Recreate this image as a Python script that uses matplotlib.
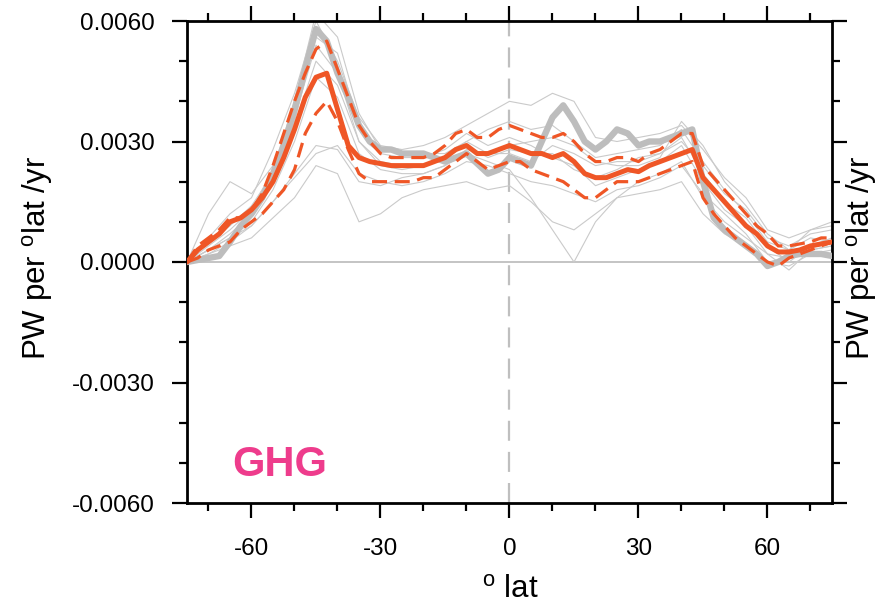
import matplotlib
matplotlib.use("Agg")
import matplotlib.pyplot as plt
from matplotlib.ticker import MultipleLocator

plt.rcParams['font.family'] = ['Liberation Sans', 'DejaVu Sans']
plt.rcParams['mathtext.fontset'] = 'custom'
plt.rcParams['mathtext.rm'] = 'Liberation Sans'

# ---------------- data ----------------
lat = [-75, -72.5, -70, -67.5, -65, -62.5, -60, -57.5, -55, -52.5, -50, -47.5, -45, -42.5,
       -40, -37.5, -35, -32.5, -30, -27.5, -25, -22.5, -20, -17.5, -15, -12.5, -10, -7.5,
       -5, -2.5, 0, 2.5, 5, 7.5, 10, 12.5, 15, 17.5, 20, 22.5, 25, 27.5, 30, 32.5, 35,
       37.5, 40, 42.5, 45, 47.5, 50, 52.5, 55, 57.5, 60, 62.5, 65, 67.5, 70, 72.5, 75]

ens_mean = [0.0000, 0.0003, 0.0005, 0.0007, 0.0010, 0.0011, 0.0013, 0.0016, 0.0020, 0.0026,
            0.0033, 0.0041, 0.0046, 0.0047, 0.0038, 0.0029, 0.0026, 0.0025, 0.00245, 0.0024,
            0.0024, 0.0024, 0.0024, 0.0025, 0.0026, 0.0028, 0.0029, 0.0027, 0.0027, 0.0028,
            0.0029, 0.0028, 0.0027, 0.0027, 0.0026, 0.0027, 0.0025, 0.0022, 0.0021, 0.0021,
            0.0022, 0.0023, 0.00225, 0.0024, 0.0025, 0.0026, 0.0027, 0.0028, 0.0021, 0.0018,
            0.0015, 0.0012, 0.0009, 0.0007, 0.0004, 0.00025, 0.00025, 0.0003, 0.0004, 0.00045,
            0.0005]

ens_upper = [0.0000, 0.0004, 0.0006, 0.0008, 0.0011, 0.0011, 0.0013, 0.0017, 0.0024, 0.0032,
             0.0040, 0.0047, 0.0053, 0.0055, 0.0048, 0.0041, 0.0034, 0.0030, 0.0027, 0.0026,
             0.0026, 0.0026, 0.0026, 0.0027, 0.0029, 0.0032, 0.0033, 0.0031, 0.0031, 0.0033,
             0.0034, 0.0033, 0.0032, 0.0031, 0.0031, 0.0032, 0.0030, 0.0027, 0.0025, 0.0025,
             0.0026, 0.0026, 0.0025, 0.0027, 0.0028, 0.0030, 0.0032, 0.0032, 0.0024, 0.0021,
             0.0018, 0.0015, 0.0012, 0.0009, 0.0007, 0.0004, 0.0004, 0.00045, 0.0005, 0.0006,
             0.0006]

ens_lower = [0.0000, 0.0001, 0.0003, 0.0004, 0.0005, 0.0008, 0.0010, 0.0012, 0.0015, 0.0018,
             0.0023, 0.0032, 0.0037, 0.0040, 0.0035, 0.0028, 0.0022, 0.0020, 0.0020, 0.0020,
             0.0020, 0.0020, 0.0021, 0.0021, 0.0023, 0.0025, 0.0027, 0.0025, 0.0023, 0.0024,
             0.0025, 0.0025, 0.0023, 0.0022, 0.0021, 0.0020, 0.0018, 0.0016, 0.0016, 0.0018,
             0.0020, 0.0020, 0.0020, 0.0021, 0.0022, 0.0023, 0.0024, 0.0025, 0.0016, 0.0012,
             0.0009, 0.0006, 0.0004, 0.0002, 0.0000, -0.0001, 0.0001, 0.0002, 0.0003, 0.0004,
             0.0005]

obs = [0.0000, 0.00005, 0.0001, 0.00015, 0.0005, 0.0009, 0.0012, 0.0016, 0.0022, 0.0029,
       0.0038, 0.0048, 0.0058, 0.0055, 0.0047, 0.0041, 0.0034, 0.0030, 0.0028, 0.0028,
       0.0027, 0.0027, 0.0027, 0.0026, 0.0025, 0.0026, 0.0027, 0.00245, 0.0022, 0.0023,
       0.0026, 0.0025, 0.0024, 0.0030, 0.0036, 0.0039, 0.0035, 0.0030, 0.0028, 0.0030,
       0.0033, 0.0032, 0.0029, 0.0030, 0.0030, 0.0031, 0.0032, 0.0033, 0.0020, 0.0011,
       0.0008, 0.0006, 0.0004, 0.0002, -0.0001, 0.0000, 0.00015, 0.0002, 0.0002, 0.0002,
       0.00015]

lat5 = [-75, -70, -65, -60, -55, -50, -45, -40, -35, -30, -25, -20, -15, -10, -5, 0,
        5, 10, 15, 20, 25, 30, 35, 40, 45, 50, 55, 60, 65, 70, 75]

member1 = [0, 0.0002, 0.0004, 0.0006, 0.0011, 0.0016, 0.0024, 0.0022, 0.0010, 0.0012, 0.0016,
           0.0018, 0.0019, 0.0020, 0.0018, 0.0019, 0.0015, 0.0010, 0.0008, 0.0012, 0.0016,
           0.0017, 0.0018, 0.0020, 0.0012, 0.0007, 0.0004, 0.0000, 0.0001, 0.0002, 0.0002]
member2 = [0, 0.0003, 0.0006, 0.0009, 0.0015, 0.0022, 0.0029, 0.0028, 0.0020, 0.0019, 0.0021,
           0.0022, 0.0024, 0.0027, 0.0025, 0.0023, 0.0016, 0.0008, 0.0000, 0.0010, 0.0016,
           0.0020, 0.0022, 0.0025, 0.0016, 0.0010, 0.0006, 0.0002, 0.0001, 0.0003, 0.0004]
member3 = [0, 0.0006, 0.0012, 0.0016, 0.0028, 0.0042, 0.0060, 0.0050, 0.0036, 0.0029, 0.0028,
           0.0029, 0.0031, 0.0034, 0.0037, 0.0040, 0.0039, 0.0042, 0.0040, 0.0031, 0.0030,
           0.0031, 0.0032, 0.0034, 0.0028, 0.0021, 0.0016, 0.0008, 0.0006, 0.0008, 0.0009]
member4 = [0, 0.0012, 0.0020, 0.0017, 0.0024, 0.0034, 0.0050, 0.0044, 0.0030, 0.0025, 0.0024,
           0.0024, 0.0026, 0.0030, 0.0033, 0.0035, 0.0033, 0.0034, 0.0030, 0.0026, 0.0027,
           0.0028, 0.0029, 0.0033, 0.0025, 0.0018, 0.0012, 0.0005, 0.0003, 0.0006, 0.0005]
member5 = [0, 0.0003, 0.0007, 0.0012, 0.0020, 0.0035, 0.0056, 0.0052, 0.0034, 0.0027, 0.0026,
           0.0026, 0.0028, 0.0032, 0.0029, 0.0031, 0.0029, 0.0026, 0.0024, 0.0019, 0.0021,
           0.0023, 0.0025, 0.0029, 0.0020, 0.0013, 0.0009, 0.0002, -0.0002, 0.0003, 0.0004]
member6 = [0, 0.0004, 0.0008, 0.0013, 0.0023, 0.0040, 0.0062, 0.0056, 0.0037, 0.0028, 0.0027,
           0.0027, 0.0027, 0.0030, 0.0027, 0.0027, 0.0025, 0.0029, 0.0027, 0.0024, 0.0025,
           0.0025, 0.0027, 0.0031, 0.0022, 0.0015, 0.0011, 0.0004, 0.0000, 0.0004, 0.0006]
member7 = [0, 0.0002, 0.0005, 0.0009, 0.0015, 0.0021, 0.0027, 0.0029, 0.0022, 0.0020, 0.0019,
           0.0020, 0.0022, 0.0025, 0.0024, 0.0022, 0.0020, 0.0019, 0.0017, 0.0015, 0.0018,
           0.0019, 0.0021, 0.0024, 0.0017, 0.0012, 0.0007, 0.0000, -0.0001, 0.0002, 0.0003]
member8 = [0, 0.0005, 0.0009, 0.0014, 0.0022, 0.0036, 0.0054, 0.0047, 0.0030, 0.0024, 0.0023,
           0.0024, 0.0026, 0.0029, 0.0026, 0.0028, 0.0027, 0.0027, 0.0023, 0.0021, 0.0023,
           0.0026, 0.0027, 0.0030, 0.0024, 0.0017, 0.0013, 0.0006, 0.0004, 0.0007, 0.0008]
member9 = [0, 0.0003, 0.0006, 0.0010, 0.0018, 0.0030, 0.0046, 0.0041, 0.0027, 0.0023, 0.0022,
           0.0022, 0.0024, 0.0028, 0.0027, 0.0029, 0.0030, 0.0031, 0.0029, 0.0025, 0.0024,
           0.0024, 0.0026, 0.0035, 0.0029, 0.0020, 0.0014, 0.0007, 0.0003, 0.0008, 0.0010]
members = [member1, member2, member3, member4, member5, member6, member7, member8, member9]

xticks = [-60, -30, 0, 30, 60]
yticks = [-0.006, -0.003, 0.0, 0.003, 0.006]
ytick_labels = ['-0.0060', '-0.0030', '0.0000', '0.0030', '0.0060']
panel_label = 'GHG'

# ---------------- figure ----------------
W, H = 879, 608
fig = plt.figure(figsize=(W / 100, H / 100), dpi=100)
L, R, T, B = 187, 832, 21, 503
ax = fig.add_axes([L / W, 1 - B / H, (R - L) / W, (B - T) / H])

orange = '#EF5626'
gray_thick = '#BDBDBD'
gray_thin = '#CACACA'

ax.axhline(0, color='#BFBFBF', lw=1.3, zorder=1)
ax.axvline(0, color='#BFBFBF', lw=1.6, dashes=(9, 5), zorder=1)

for m in members:
    ax.plot(lat5, m, color=gray_thin, lw=0.8, zorder=2)
ax.plot(lat, obs, color=gray_thick, lw=4.6, zorder=3, solid_capstyle='round',
        solid_joinstyle='round')
ax.plot(lat, ens_upper, color=orange, lw=2.3, dashes=(4.7, 2.4), zorder=4,
        dash_capstyle='butt')
ax.plot(lat, ens_lower, color=orange, lw=2.3, dashes=(4.7, 2.4), zorder=4,
        dash_capstyle='butt')
ax.plot(lat, ens_mean, color=orange, lw=3.6, zorder=5, solid_joinstyle='round',
        solid_capstyle='round')

ax.set_xlim(-75, 75)
ax.set_ylim(-0.006, 0.006)
ax.set_xticks(xticks)
ax.set_xticklabels([str(v) for v in xticks])
ax.xaxis.set_minor_locator(MultipleLocator(10))
ax.set_yticks(yticks)
ax.set_yticklabels(ytick_labels)
ax.yaxis.set_minor_locator(MultipleLocator(0.001))

for s in ax.spines.values():
    s.set_linewidth(2.0)
ax.tick_params(which='both', direction='out', top=True, right=True, width=1.6,
               labelsize=17.5, colors='black')
ax.tick_params(which='major', length=11)
ax.tick_params(which='minor', length=6)
ax.tick_params(axis='y', pad=12)
ax.tick_params(axis='x', pad=14)

ax.text(-64.5, -0.00533, panel_label, color='#EE3C8C', fontsize=30, fontweight='bold',
        ha='left', va='baseline')

ylab = r'PW per $^{\mathrm{o}}$lat /yr'
fig.text(38 / W, 1 - 258 / H, ylab, rotation=90, fontsize=22.5, ha='center', va='center')
fig.text(862 / W, 1 - 258 / H, ylab, rotation=90, fontsize=22.5, ha='center', va='center')
fig.text(510 / W, 1 - 590 / H, r'$^{\mathrm{o}}$ lat', fontsize=22.5, ha='center', va='center')

fig.savefig('out.png', dpi=100)
